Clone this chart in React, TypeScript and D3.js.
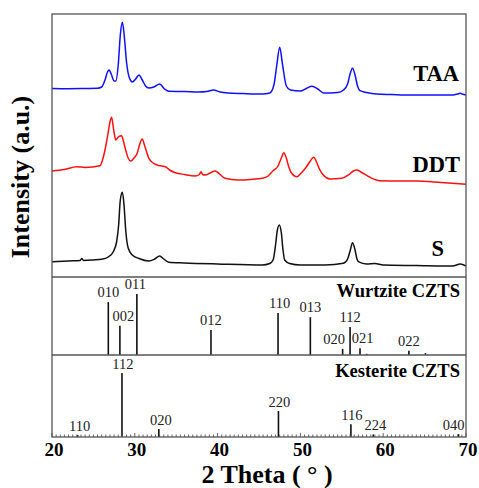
import React from "react";
import * as d3 from "d3";

// ---- data (2θ in degrees, intensity in arbitrary stacked units) ----
const taaTheta = [20,22,24,25.5,26.0,26.4,26.7,26.9,27.15,27.5,27.7,28.0,28.25,28.5,28.75,29.0,29.35,29.7,30.1,30.5,30.9,31.3,31.7,32.3,33.0,33.6,34.1,36,37.7,38.7,39.5,40.3,41.3,43,45.4,46.3,46.8,47.15,47.5,47.85,48.3,48.8,50.0,50.7,51.4,52.1,52.8,54.5,55.2,55.7,56.0,56.3,56.6,56.9,57.2,58,59.2,61,63.2,66,68.4,69.0,69.3,69.6,70];
const taaY = [88.5,88.7,88.5,88.3,87,80,72,70,74,81,81,65,35,22.3,38,62,78,82,79,75,80,86,88,87,84,89,91.3,91.5,92,91.5,90,92,93,93.5,94,93,85,65,47.3,65,86,90,91,88.5,86.3,89,93,92.5,90,84,74,68.3,75,86,90.7,92.5,94,94.5,95,95,95,94,93.3,94.3,95];

const ddtTheta = [20,21.5,23.0,24,25.8,26.1,26.4,26.8,27.0,27.2,27.45,27.7,28.0,28.4,28.65,28.9,29.2,29.5,29.9,30.3,30.6,30.9,31.2,31.7,32.2,32.7,33.2,33.7,34.2,34.9,36,37.3,37.8,38.0,38.2,38.5,39.1,39.7,40.3,40.9,42.5,44,45.4,46.1,46.7,47.3,47.7,48.0,48.3,48.6,48.9,49.6,50.1,50.6,51.2,51.6,52.0,52.3,52.6,53.6,55.0,55.8,56.4,56.8,57.3,58.4,59.6,62,64.0,67,70];
const ddtY = [171,169.5,166.7,167.5,165.7,160,150,131.7,122,117.3,130,140,137,135.7,142,150,158,161,158,153,144,139,146,158.3,163,165,166,166.7,170,172.7,174.5,176,174.5,171.7,174.5,175,173,171,174.5,178.3,180,179.5,178.3,176,170.7,166,158,152.7,158,167,172.7,176.7,173,168.3,161,157.3,163,169,173.3,179,178.3,175,171,170,172,177.3,180.7,181,181,182.5,184.3];

const sTheta = [20,22,23.4,23.6,23.8,25,26.0,26.8,27.4,27.8,28.05,28.25,28.5,28.7,28.9,29.2,29.7,30.5,31.7,32.4,33.0,33.5,34.1,36,40,45.4,46.3,46.7,47.0,47.2,47.45,47.7,47.9,48.1,48.7,50,53,55.2,55.7,56.0,56.3,56.6,56.8,57.0,58,59.0,60,64,68.4,69.3,70];
const sY = [261.7,261,260.5,258.5,260.5,260,259.3,257,251.7,242,225,200,192.3,205,230,248,255,258.5,261,259,256,259,262.3,263,264,265,263.5,260,245,231,225,233,250,260,263.5,265,265,263.3,259,251,242.7,250,258,261.7,264,263.5,265,265.5,266,264,266];

const seriesNames = ["TAA", "DDT", "S"];
const seriesColors = ["#1010ff", "#ff1010", "#111111"];

// Wurtzite CZTS reference pattern
const wzHkl = ["010","002","011","012","110","013","020","112","021","","022",""];
const wzTheta = [26.8,28.2,30.25,39.2,47.3,51.2,55.1,56.0,57.2,58.0,63.1,65.1];
const wzInt = [87,48,100,41,69,62,10,46,11,2,7,3];

// Kesterite CZTS reference pattern
const kzHkl = ["110","112","020","220","116","224","040"];
const kzTheta = [23.1,28.45,32.9,47.35,56.1,58.8,69.1];
const kzInt = [3,100,12.5,40.6,20,4,4.5];

const xTicks = [20,30,40,50,60,70];

// layout-only label nudges (px)
const wzLabelDx: Record<string, number> = { "002": 3.5, "011": -1.5, "020": -8.5, "021": 2.5, "110": 1.5 };
const kzLabelDx: Record<string, number> = { "110": 2, "020": 2, "224": 2, "040": -5 };

export default function App() {
  const W = 479, H = 488;
  const L = 52, R = 466, T = 14, B1 = 277, B2 = 355, B3 = 437;
  const x = d3.scaleLinear().domain([20, 70]).range([L, R]);
  const yTop = d3.scaleLinear().domain([0, 263]).range([B1, T]);
  const yWz = d3.scaleLinear().domain([0, 128]).range([B2, B1]);
  const yKz = d3.scaleLinear().domain([0, 128]).range([B3, B2]);

  const traces = [
    taaTheta.map((t, i) => [t, 277 - taaY[i]]),
    ddtTheta.map((t, i) => [t, 277 - ddtY[i]]),
    sTheta.map((t, i) => [t, 277 - sY[i]]),
  ];
  const line = d3.line<number[]>().x(d => x(d[0])).y(d => yTop(d[1])).curve(d3.curveMonotoneX);

  const labelPos = [
    { x: 459, y: 81 },
    { x: 460, y: 172 },
    { x: 444, y: 256 },
  ];

  const minor = d3.range(20, 70.001, 0.5);
  const serif = "'Liberation Serif', 'Times New Roman', serif";
  const frame = "#555";

  return (
    <svg width={W} height={H} style={{ position: "absolute", left: 0, top: 0 }} fontFamily={serif}>
      <rect x={0} y={0} width={W} height={H} fill="#fff" />
      {traces.map((d, i) => (
        <path key={i} d={line(d) || ""} fill="none" stroke={seriesColors[i]} strokeWidth={1.5} />
      ))}
      {seriesNames.map((n, i) => (
        <text key={n} x={labelPos[i].x} y={labelPos[i].y} textAnchor="end" fontWeight="bold" fontSize={22.5} fill="#000">{n}</text>
      ))}

      {/* Wurtzite sticks */}
      {wzTheta.map((t, i) => (
        <g key={"w" + i}>
          <line x1={x(t)} x2={x(t)} y1={yWz(0)} y2={yWz(wzInt[i])} stroke="#111" strokeWidth={1.6} />
          {wzHkl[i] && (
            <text x={x(t) + (wzLabelDx[wzHkl[i]] || 0)} y={yWz(wzInt[i]) - 5} textAnchor="middle" fontSize={14.5} fill="#222">{wzHkl[i]}</text>
          )}
        </g>
      ))}
      <text x={460} y={297} textAnchor="end" fontWeight="bold" fontSize={18.5} fill="#000">Wurtzite CZTS</text>

      {/* Kesterite sticks */}
      {kzTheta.map((t, i) => (
        <g key={"k" + i}>
          <line x1={x(t)} x2={x(t)} y1={yKz(0)} y2={yKz(kzInt[i])} stroke="#111" strokeWidth={1.6} />
          <text x={x(t) + (kzLabelDx[kzHkl[i]] || 1)} y={yKz(kzInt[i]) - 4} textAnchor="middle" fontSize={14.5} fill="#222">{kzHkl[i]}</text>
        </g>
      ))}
      <text x={460} y={377} textAnchor="end" fontWeight="bold" fontSize={18.5} fill="#000">Kesterite CZTS</text>

      {/* frame and dividers */}
      <rect x={L} y={T} width={R - L} height={B3 - T} fill="none" stroke={frame} strokeWidth={1.3} />
      <line x1={L} x2={R} y1={B1} y2={B1} stroke={frame} strokeWidth={1.3} />
      <line x1={L} x2={R} y1={B2} y2={B2} stroke={frame} strokeWidth={1.3} />

      {/* bottom axis ticks */}
      {minor.map((v, i) => (
        <line key={"m" + i} x1={x(v)} x2={x(v)} y1={B3} y2={B3 - (v % 10 === 0 ? 4 : 2.5)} stroke={frame} strokeWidth={0.9} />
      ))}
      {xTicks.map(v => (
        <text key={"t" + v} x={x(v) + 2} y={456} textAnchor="middle" fontWeight="bold" fontSize={19} fill="#000">{v}</text>
      ))}
      <text x={267} y={483} textAnchor="middle" fontWeight="bold" fontSize={26} fill="#000">2 Theta ( ° )</text>
      <text transform={`translate(29,177) rotate(-90)`} textAnchor="middle" fontWeight="bold" fontSize={26} fill="#000">Intensity (a.u.)</text>
    </svg>
  );
}
